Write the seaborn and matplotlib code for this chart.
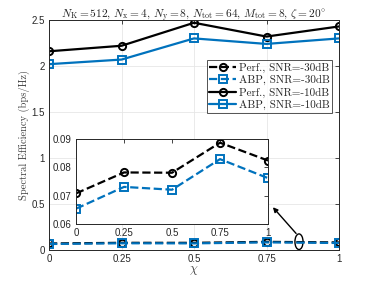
import numpy as np
import pandas as pd
import matplotlib
matplotlib.use("Agg")
import matplotlib.pyplot as plt
import seaborn as sns
from matplotlib.patches import Ellipse

sns.set_style("white")
plt.rcParams['font.family'] = ['Liberation Sans', 'DejaVu Sans']
plt.rcParams['mathtext.fontset'] = 'cm'

chi = [0, 0.25, 0.5, 0.75, 1]
perf_m30 = [0.0708, 0.0782, 0.0781, 0.0887, 0.0824]
abp_m30 = [0.0654, 0.0731, 0.0721, 0.0829, 0.0762]
perf_m10 = [2.16, 2.22, 2.47, 2.32, 2.43]
abp_m10 = [2.02, 2.07, 2.30, 2.24, 2.30]
labels = ["Perf., SNR=-30dB", "ABP, SNR=-30dB", "Perf., SNR=-10dB", "ABP, SNR=-10dB"]
xticks = [0, 0.25, 0.5, 0.75, 1]
xticklabels = ["0", "0.25", "0.5", "0.75", "1"]
yticks = [0, 0.5, 1, 1.5, 2, 2.5]
yticklabels = ["0", "0.5", "1", "1.5", "2", "2.5"]
inset_yticks = [0.06, 0.07, 0.08, 0.09]
inset_yticklabels = ["0.06", "0.07", "0.08", "0.09"]

BLUE = "#0072BD"
BLACK = "#000000"
styles = [
    dict(color=BLACK, linestyle="--", marker="o"),
    dict(color=BLUE, linestyle="--", marker="s"),
    dict(color=BLACK, linestyle="-", marker="o"),
    dict(color=BLUE, linestyle="-", marker="s"),
]
series = [perf_m30, abp_m30, perf_m10, abp_m10]

fig = plt.figure(figsize=(3.75, 2.81), dpi=100)
ax = fig.add_axes([0.1307, 0.1103, 0.7733, 0.8185])

for vals, lab, st in zip(series, labels, styles):
    sns.lineplot(x=chi, y=vals, ax=ax, label=lab, color=st["color"],
                 linestyle=st["linestyle"], marker=st["marker"], markersize=5.2,
                 fillstyle="none", markeredgewidth=1.4, linewidth=1.6,
                 markeredgecolor=st["color"], dashes=False if st["linestyle"] == "-" else (3, 2.2))

ax.set_xlim(0, 1)
ax.set_ylim(0, 2.5)
ax.set_xticks(xticks)
ax.set_xticklabels(xticklabels)
ax.set_yticks(yticks)
ax.set_yticklabels(yticklabels)
ax.tick_params(direction="in", length=3, labelsize=7, colors="#262626",
               top=True, right=True, width=0.6, pad=3)
ax.grid(True, color="#e6e6e6", linewidth=0.6)
for s in ax.spines.values():
    s.set_color("#262626")
    s.set_linewidth(0.7)
ax.set_xlabel(r"$\chi$", fontsize=9, color="#404040", labelpad=0)
ax.set_ylabel("Spectral Efficiency (bps/Hz)", family="cmr10", fontsize=7.5,
              color="#404040", labelpad=1)
ax.set_title(r"$N_{\rm K}=512,\, N_{\rm x}=4,\, N_{\rm y}=8,\, N_{\rm tot}=64,\, M_{\rm tot}=8,\, \zeta=20^{\circ}$",
             fontsize=8.2, color="#262626", pad=1.5)

leg = ax.legend(loc="upper right", bbox_to_anchor=(0.976, 0.825),
                prop={"family": "cmr10", "size": 8}, frameon=True,
                fancybox=False, handlelength=2.4, handletextpad=0.25,
                borderpad=0.2, labelspacing=0.22, borderaxespad=0)
leg.get_frame().set_edgecolor("#262626")
leg.get_frame().set_linewidth(0.7)

# ellipse + arrow
ell = Ellipse((0.862, 0.09), 0.028, 0.17, fill=False, edgecolor="black", linewidth=1.0)
ax.add_patch(ell)
ax.annotate("", xy=(0.772, 0.465), xytext=(0.852, 0.18),
            arrowprops=dict(arrowstyle="-|>", color="black", lw=1.0,
                            mutation_scale=7, shrinkA=0, shrinkB=0))

# inset
axi = fig.add_axes([0.2027, 0.2028, 0.512, 0.3025])
for vals, lab, st in zip(series[:2], labels[:2], styles[:2]):
    sns.lineplot(x=chi, y=vals, ax=axi, color=st["color"], linestyle=st["linestyle"],
                 marker=st["marker"], markersize=5.2, fillstyle="none",
                 markeredgewidth=1.4, linewidth=1.6, markeredgecolor=st["color"],
                 dashes=(3, 2.2), legend=False)
axi.set_xlim(0, 1)
axi.set_ylim(0.06, 0.09)
axi.set_xticks(xticks)
axi.set_xticklabels(xticklabels)
axi.set_yticks(inset_yticks)
axi.set_yticklabels(inset_yticklabels)
axi.tick_params(direction="in", length=3, labelsize=7, colors="#262626",
                top=True, right=True, width=0.6, pad=3)
axi.grid(False)
axi.set_facecolor("white")
for s in axi.spines.values():
    s.set_color("#262626")
    s.set_linewidth(0.7)

fig.savefig("out.png", dpi=100)
